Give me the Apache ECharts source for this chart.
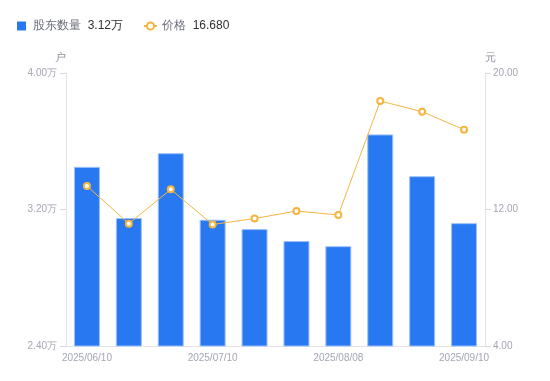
<!DOCTYPE html>
<html><head><meta charset="utf-8">
<script src="https://cdn.jsdelivr.net/npm/echarts@6/dist/echarts.min.js"></script>
<style>html,body{margin:0;padding:0;background:#fff}#c{width:550px;height:381px}</style>
</head><body><div id="c"></div>
<script>
var categories = ['2025/06/10','2025/06/20','2025/06/30','2025/07/10','2025/07/20','2025/07/31','2025/08/08','2025/08/20','2025/08/31','2025/09/10'];
var holders = [3.45, 3.15, 3.53, 3.14, 3.085, 3.015, 2.985, 3.64, 3.395, 3.12];
var prices = [13.38, 11.17, 13.18, 11.12, 11.47, 11.91, 11.68, 18.36, 17.73, 16.68];
var leftTicks = [2.4, 3.2, 4.0];
var rightTicks = [4, 12, 20];
var legendValues = {'股东数量': '3.12万', '价格': '16.680'};

var chart = echarts.init(document.getElementById('c'), null, {renderer: 'canvas'});
var axisLabelColor = '#a4a6b3';
chart.setOption({
  animation: false,
  legend: {
    left: 12, top: 15, itemGap: 20, itemWidth: 13, itemHeight: 9, itemStyle: {borderWidth: 0},
    data: [
      {name: '股东数量', icon: 'path://M0,0h10v10h-10z', itemStyle: {borderWidth: 0, color: '#2878f2'}},
      {name: '价格'}
    ],
    formatter: function (n) { return '{a|' + n + '}  {b|' + legendValues[n] + '}'; },
    textStyle: {rich: {a: {color: '#6b6e7a', fontSize: 12}, b: {color: '#333', fontSize: 12}}}
  },
  grid: {left: 66, right: 65, top: 73, bottom: 35},
  xAxis: {
    type: 'category', data: categories,
    axisLine: {lineStyle: {color: '#e3e3e6'}},
    axisTick: {show: false},
    axisLabel: {interval: 2, color: axisLabelColor, fontSize: 10, margin: 7}
  },
  yAxis: [{
    type: 'value', min: leftTicks[0], max: leftTicks[2], interval: 0.8,
    name: '户', nameGap: 10, nameTextStyle: {color: '#8e909c', fontSize: 11, align: 'right'},
    axisLine: {show: true, lineStyle: {color: '#e3e3e6'}},
    axisTick: {show: true, length: 6, lineStyle: {color: '#d8d8dc'}},
    splitLine: {show: false},
    axisLabel: {color: axisLabelColor, fontSize: 10, margin: 9, formatter: function (v) { return v.toFixed(2) + '万'; }}
  }, {
    type: 'value', min: rightTicks[0], max: rightTicks[2], interval: 8,
    name: '元', nameGap: 10, nameTextStyle: {color: '#8e909c', fontSize: 11, align: 'left'},
    axisLine: {show: true, lineStyle: {color: '#e3e3e6'}},
    axisTick: {show: true, length: 6, lineStyle: {color: '#d8d8dc'}},
    splitLine: {show: false},
    axisLabel: {color: axisLabelColor, fontSize: 10, margin: 8, formatter: function (v) { return v.toFixed(2); }}
  }],
  series: [{
    name: '股东数量', type: 'bar', data: holders, barWidth: '62%',
    itemStyle: {color: '#2878f2', borderColor: '#9cc1fa', borderWidth: 1}
  }, {
    name: '价格', type: 'line', yAxisIndex: 1, data: prices,
    symbol: 'emptyCircle', symbolSize: 6,
    lineStyle: {color: '#f6b53f', width: 1},
    itemStyle: {color: '#f6b53f', borderWidth: 2}
  }]
});
</script></body></html>
